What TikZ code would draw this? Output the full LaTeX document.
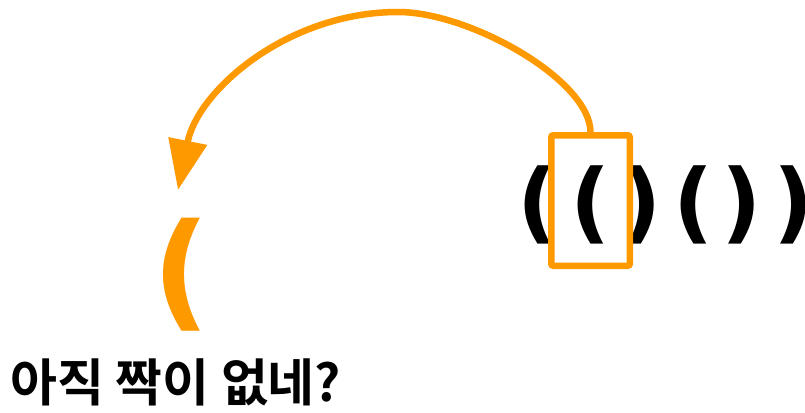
\documentclass[tikz,border=0pt]{standalone}
\usepackage{fontspec}
\newfontfamily\krfont{Noto Sans CJK KR}[BoldFont={* Bold}]
\newfontfamily\parenfont{DejaVu Sans}
\usetikzlibrary{arrows.meta}
\definecolor{accent}{HTML}{FF9900}
\tikzset{
  bparen/.style={inner sep=0pt, font=\parenfont\bfseries\fontsize{88}{88}\selectfont, text=black},
  oparen/.style={inner sep=0pt, font=\parenfont\bfseries\fontsize{127}{127}\selectfont, text=accent},
  hilite/.style={draw=accent, line width=6.5pt, rounded corners=2pt, minimum width=78.5pt, minimum height=130.5pt, inner sep=0pt},
  jump/.style={draw=accent, line width=6.5pt, -{Triangle[length=50pt,width=38pt]}},
  caption/.style={inner sep=0pt, font=\krfont\bfseries\fontsize{51}{51}\selectfont, anchor=base west}
}
\begin{document}
\begin{tikzpicture}[x=1pt,y=-1pt]
\useasboundingbox (0,0) rectangle (805,412);
\node[bparen] (p1) at (537.5,205) {(};
\node[bparen] (p2) at (591,205) {(};
\node[bparen] (p3) at (641.5,205) {)};
\node[bparen] (p4) at (693.5,205) {(};
\node[bparen] (p5) at (741.5,205) {)};
\node[bparen] (p6) at (794,205) {)};
\node[hilite] (box) at (590.5,200.5) {};
\node[oparen] (lone) at (181.5,274.5) {(};
\coordinate (top) at (398,12);
\coordinate (tip) at (178,190);
\draw[jump] (box.north) .. controls (590,80) and (470,12) .. (top) .. controls (288,12) and (198,90) .. (tip);
\node[caption] (msg) at (10,401) {아직 짝이 없네?};
\end{tikzpicture}
\end{document}
